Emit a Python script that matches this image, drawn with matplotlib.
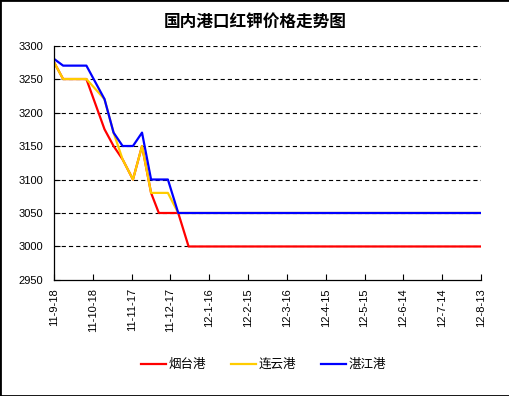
import matplotlib
matplotlib.use("Agg")
import matplotlib.pyplot as plt
from matplotlib.patches import Rectangle
import pandas as pd

plt.rcParams['font.family'] = ['Liberation Sans', 'Noto Sans CJK SC']
plt.rcParams['lines.scale_dashes'] = False

# 数据
red_dates = ['2011-09-18', '2011-09-25', '2011-10-13', '2011-10-27', '2011-11-03',
             '2011-11-10', '2011-11-18', '2011-11-25', '2011-12-02', '2011-12-08',
             '2011-12-23', '2011-12-31', '2012-08-13']
red_vals = [3275, 3250, 3250, 3175, 3150, 3130, 3100, 3150, 3080, 3050, 3050, 3000, 3000]

yellow_dates = ['2011-09-18', '2011-09-25', '2011-10-13', '2011-10-27', '2011-11-03',
                '2011-11-10', '2011-11-18', '2011-11-25', '2011-12-02', '2011-12-15',
                '2011-12-23', '2012-08-13']
yellow_vals = [3275, 3250, 3250, 3220, 3170, 3130, 3100, 3150, 3080, 3080, 3050, 3050]

blue_dates = ['2011-09-18', '2011-09-25', '2011-10-13', '2011-10-27', '2011-11-03',
              '2011-11-10', '2011-11-18', '2011-11-25', '2011-12-02', '2011-12-15',
              '2011-12-23', '2012-08-13']
blue_vals = [3280, 3270, 3270, 3220, 3170, 3150, 3150, 3170, 3100, 3100, 3050, 3050]

tick_dates = ['2011-09-18', '2011-10-18', '2011-11-17', '2011-12-17', '2012-01-16',
              '2012-02-15', '2012-03-16', '2012-04-15', '2012-05-15', '2012-06-14',
              '2012-07-14', '2012-08-13']
tick_labels = ['11-9-18', '11-10-18', '11-11-17', '11-12-17', '12-1-16', '12-2-15',
               '12-3-16', '12-4-15', '12-5-15', '12-6-14', '12-7-14', '12-8-13']
y_ticks = [2950, 3000, 3050, 3100, 3150, 3200, 3250, 3300]

fig = plt.figure(figsize=(5.1, 3.96), dpi=100)
ax = fig.add_axes([0.106, 0.293, 0.837, 0.592])

ax.plot(pd.to_datetime(red_dates), red_vals, color='#FF0000', lw=1.6, label='烟台港')
ax.plot(pd.to_datetime(yellow_dates), yellow_vals, color='#FFCC00', lw=1.6, label='连云港')
ax.plot(pd.to_datetime(blue_dates), blue_vals, color='#0000FF', lw=1.6, label='湛江港')

td = pd.to_datetime(tick_dates)
ax.set_xlim(td[0], td[-1])
ax.set_ylim(2950, 3300)
ax.set_xticks(td)
ax.set_xticklabels(tick_labels, rotation=90, fontsize=8)
ax.set_yticks(y_ticks)
ax.tick_params(axis='y', labelsize=8, direction='in', length=4, width=0.8, pad=8)
ax.tick_params(axis='x', direction='in', length=4, width=0.8, pad=6)

for v in y_ticks[1:]:
    ax.axhline(v, color='black', lw=0.8, dashes=(3, 2.2), zorder=0.5)

for s in ['top', 'right']:
    ax.spines[s].set_visible(False)
for s in ['left', 'bottom']:
    ax.spines[s].set_linewidth(0.9)

fig.suptitle('国内港口红钾价格走势图', x=0.5, y=0.965, fontsize=12, fontweight='bold')

fig.legend(loc='center', bbox_to_anchor=(0.517, 0.078), ncol=3, frameon=False,
           fontsize=9, handlelength=2.0, handletextpad=0.2, columnspacing=2.0)

fig.patches.append(Rectangle((0, 0), 1, 1, transform=fig.transFigure, fill=False,
                             edgecolor='black', lw=2))

fig.savefig('out.png', dpi=100)
